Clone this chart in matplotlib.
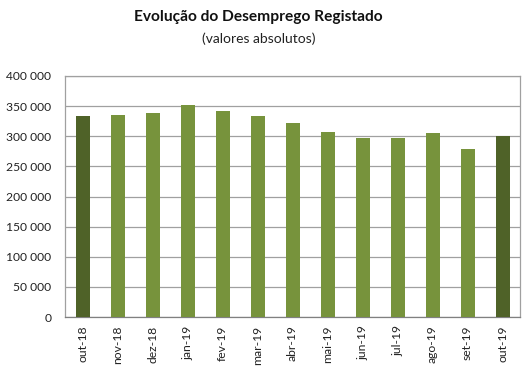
import numpy as np
import matplotlib
matplotlib.use('Agg')
import matplotlib.pyplot as plt
from matplotlib.ticker import FuncFormatter

# monthly registered unemployment (absolute values)
months = ['out-18', 'nov-18', 'dez-18', 'jan-19', 'fev-19', 'mar-19', 'abr-19',
          'mai-19', 'jun-19', 'jul-19', 'ago-19', 'set-19', 'out-19']
desemprego = [334000, 335800, 339000, 351200, 342300, 334000, 322000,
              306600, 297600, 297600, 304800, 278800, 300900]
yticks = [0, 50000, 100000, 150000, 200000, 250000, 300000, 350000, 400000]

dark = '#4F6228'
light = '#77933C'
bar_colors = [dark if i in (0, len(months) - 1) else light for i in range(len(months))]

plt.rcParams['font.family'] = ['Lato', 'DejaVu Sans']

fig = plt.figure(figsize=(5.29, 3.74), dpi=100)
ax = fig.add_axes([0.123, 0.152, 0.860, 0.645])

x = np.arange(len(months))
ax.bar(x, desemprego, width=0.4, color=bar_colors, zorder=3)

ax.set_xlim(-0.5, len(months) - 0.5)
ax.set_ylim(0, 400000)
ax.set_yticks(yticks)
ax.yaxis.set_major_formatter(FuncFormatter(lambda v, p: '{:,.0f}'.format(v).replace(',', ' ')))
ax.set_xticks(x)
ax.set_xticklabels(months, rotation=90)
ax.tick_params(axis='both', labelsize=8.7, colors='#222222', length=0)
ax.tick_params(axis='y', pad=10)
ax.tick_params(axis='x', pad=6)

ax.grid(axis='y', color='#a0a0a0', linewidth=0.9, zorder=0)
for s in ax.spines.values():
    s.set_color('#a0a0a0')
    s.set_linewidth(0.9)
ax.spines['bottom'].set_color('#808080')

fig.text(0.488, 0.955, 'Evolução do Desemprego Registado', ha='center', va='center',
         fontsize=11.2, fontweight='bold', color='#111111')
fig.text(0.49, 0.897, '(valores absolutos)', ha='center', va='center',
         fontsize=10, color='#222222')

fig.savefig('out.png', dpi=100)
